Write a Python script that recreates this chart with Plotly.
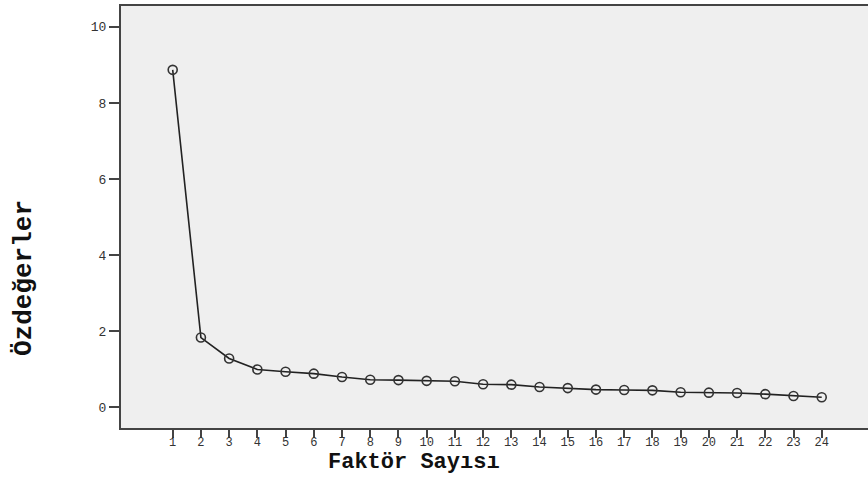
import plotly.graph_objects as go

factors = list(range(1, 25))
eigenvalues = [8.87, 1.83, 1.28, 0.99, 0.93, 0.88, 0.79, 0.72, 0.71, 0.69, 0.68, 0.60,
               0.59, 0.53, 0.50, 0.46, 0.45, 0.44, 0.39, 0.38, 0.37, 0.34, 0.29, 0.26]
x_tick_labels = [str(f) for f in factors]
y_ticks = [0, 2, 4, 6, 8, 10]
x_title = "Faktör Sayısı"
y_title = "Özdeğerler"

W, H = 868, 477
L, R, T, B = 121, 0, 6, 49

fig = go.Figure()
fig.add_trace(go.Scatter(
    x=factors, y=eigenvalues, mode="lines+markers",
    line=dict(color="#222222", width=1.6),
    marker=dict(symbol="circle-open", size=9, color="#333333", line=dict(width=1.6, color="#333333")),
    showlegend=False, hoverinfo="x+y",
))

tick_font = dict(family="Liberation Mono, Courier New, monospace", size=13, color="#333333")
fig.update_layout(
    width=W, height=H,
    margin=dict(l=L, r=R, t=T, b=B),
    paper_bgcolor="white",
    plot_bgcolor="#efefef",
    xaxis=dict(
        range=[-0.832, 25.64], tickmode="array", tickvals=factors, ticktext=x_tick_labels,
        showgrid=False, zeroline=False, showline=True, linecolor="#444444", linewidth=2,
        mirror=True, ticks="outside", ticklen=8, tickwidth=1.5, tickcolor="#444444",
        tickfont=dict(family="Liberation Mono, Courier New, monospace", size=12, color="#333333"),
        ticklabelstandoff=-6,
    ),
    yaxis=dict(
        range=[-0.55, 10.55], tickmode="array", tickvals=y_ticks,
        showgrid=False, zeroline=False, showline=True, linecolor="#444444", linewidth=2,
        ticks="outside", ticklen=10, tickwidth=1.5, tickcolor="#444444",
        tickfont=tick_font,
    ),
)

plot_w = W - L - R
plot_h = H - T - B
fig.add_annotation(
    text=f"<b>{x_title}</b>", xref="paper", yref="paper",
    x=(414 - L) / plot_w, y=(H - B - 477) / plot_h, xanchor="center", yanchor="bottom",
    showarrow=False, font=dict(family="Liberation Mono, Courier New, monospace", size=22, color="#111111"),
)
fig.add_annotation(
    text=f"<b>{y_title}</b>", xref="paper", yref="paper",
    x=(24 - L) / plot_w, y=(H - B - 278) / plot_h, xanchor="center", yanchor="middle",
    textangle=-90, showarrow=False,
    font=dict(family="Liberation Mono, Courier New, monospace", size=26, color="#111111"),
)

fig.write_html(
    "out.html",
    config={"displayModeBar": False},
    post_script="document.body.style.margin='0';document.body.style.overflow='hidden';",
)
